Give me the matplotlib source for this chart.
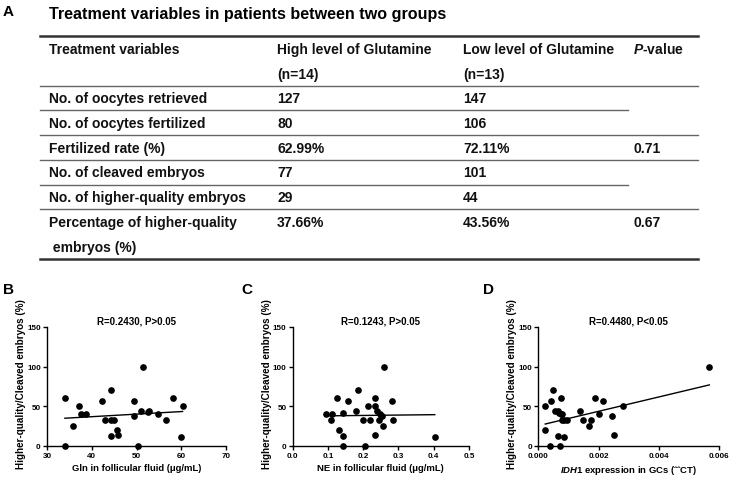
import numpy as np
import matplotlib
matplotlib.use('Agg')
import matplotlib.pyplot as plt
from matplotlib.lines import Line2D

plt.rcParams['font.family'] = ['Liberation Sans', 'DejaVu Sans']
plt.rcParams['font.weight'] = 'bold'
plt.rcParams['mathtext.fontset'] = 'custom'
plt.rcParams['mathtext.it'] = 'Liberation Sans:italic:bold'
plt.rcParams['mathtext.rm'] = 'Liberation Sans:bold'

# ---- table data ----
table_title = 'Treatment variables in patients between two groups'
col_headers = ['Treatment variables', 'High level of Glutamine', 'Low level of Glutamine',
               r'$\it{P}$-value']
group_n = ['(n=14)', '(n=13)']
row_names = ['No. of oocytes retrieved', 'No. of oocytes fertilized', 'Fertilized rate (%)',
             'No. of cleaved embryos', 'No. of higher-quality embryos',
             'Percentage of higher-quality']
row_extra = ' embryos (%)'
high_vals = ['127', '80', '62.99%', '77', '29', '37.66%']
low_vals = ['147', '106', '72.11%', '101', '44', '43.56%']
p_vals = ['', '', '0.71', '', '', '0.67']
partial_rule = [True, False, False, True, False, False]

# ---- scatter data ----
gln_x = [34.0, 34.0, 35.8, 37.2, 37.7, 38.7, 42.3, 43.0, 44.3, 44.2, 44.4, 45.0, 45.6,
         45.8, 49.4, 49.4, 50.4, 51.5, 51.0, 52.6, 52.9, 54.9, 56.5, 58.2, 59.9, 60.3]
gln_y = [60, 0, 25, 50, 40, 40, 57, 33, 70, 13, 33, 33, 20,
         14, 57, 37.5, 0, 100, 44.5, 43, 44.5, 40, 33, 60, 11, 50]
gln_fit_x = [34.0, 60.3]
gln_fit_y = [35.0, 43.5]

ne_x = [0.095, 0.108, 0.112, 0.127, 0.130, 0.143, 0.144, 0.143, 0.158, 0.180, 0.186, 0.200,
        0.205, 0.214, 0.218, 0.232, 0.234, 0.233, 0.240, 0.244, 0.248, 0.254, 0.258, 0.255,
        0.282, 0.285, 0.403]
ne_y = [40, 33, 40, 60, 20, 42, 13, 0, 57, 44.5, 70, 33,
        0, 50, 33, 50, 60, 14, 44.5, 33, 40, 37.5, 100, 25,
        57, 33, 11]
ne_fit_x = [0.095, 0.403]
ne_fit_y = [38.0, 39.5]

idh1_x = [0.00021, 0.00021, 0.00038, 0.00043, 0.00048, 0.00056, 0.00064, 0.00065, 0.00070,
          0.00072, 0.00075, 0.00076, 0.00080, 0.00078, 0.00085, 0.00086, 0.00096, 0.00138,
          0.00148, 0.00167, 0.00175, 0.00188, 0.00201, 0.00214, 0.00244, 0.00250, 0.00282,
          0.00567]
idh1_y = [50, 20, 0, 57, 70, 44.5, 44.5, 13, 41,
          0, 60, 40, 40, 33, 33, 11, 33, 44.5,
          33, 25, 33, 60, 40, 57, 37.5, 14, 50,
          100]
idh1_fit_x = [0.00023, 0.00567]
idh1_fit_y = [27.7, 77.0]

W, H = 729, 481
fig = plt.figure(figsize=(W / 100, H / 100), dpi=100)


def fx(x):
    return x / W


def fy(y):
    return 1 - y / H


tab_font = dict(fontsize=10, fontweight='bold', va='center', ha='left', color='#111111')
col_x = [49, 277, 463, 633]
left, right, right_part = 39.5, 698, 628
row0, step = 50, 24.7

fig.text(fx(3), fy(12), 'A', fontsize=11, fontweight='bold', va='center')
fig.text(fx(49), fy(15), table_title, fontsize=11.6, fontweight='bold', va='center')


def rule(y, x1=right, lw=1.0, color='#666666'):
    fig.add_artist(Line2D([fx(left), fx(x1)], [fy(y), fy(y)], lw=lw, color=color))


rule(36.7, lw=1.8, color='#333333')
for c, name in enumerate(col_headers):
    fig.text(fx(col_x[c]), fy(row0), name, **tab_font)
for c, n in enumerate(group_n):
    fig.text(fx(col_x[c + 1]), fy(row0 + step), n, **tab_font)
rule(row0 + step + 12)

for i, name in enumerate(row_names):
    y = row0 + (i + 2) * step
    fig.text(fx(col_x[0]), fy(y), name, **tab_font)
    fig.text(fx(col_x[1]), fy(y), high_vals[i], **tab_font)
    fig.text(fx(col_x[2]), fy(y), low_vals[i], **tab_font)
    fig.text(fx(col_x[3]), fy(y), p_vals[i], **tab_font)
    if i == len(row_names) - 1:
        fig.text(fx(col_x[0]), fy(y + step), row_extra, **tab_font)
        rule(y + step + 12, lw=1.8, color='#333333')
    else:
        rule(y + 12, x1=right_part if partial_rule[i] else right)

# ---- scatter panels ----
panels = [
    ('B', gln_x, gln_y, gln_fit_x, gln_fit_y, 'R=0.2430, P>0.05',
     'Gln in follicular fluid (\u03bcg/mL)', (30, 70), [30, 40, 50, 60, 70],
     ['30', '40', '50', '60', '70'], 47, 226, 3),
    ('C', ne_x, ne_y, ne_fit_x, ne_fit_y, 'R=0.1243, P>0.05',
     'NE in follicular fluid (\u03bcg/mL)', (0, 0.5), [0, 0.1, 0.2, 0.3, 0.4, 0.5],
     ['0.0', '0.1', '0.2', '0.3', '0.4', '0.5'], 292.7, 469, 241),
    ('D', idh1_x, idh1_y, idh1_fit_x, idh1_fit_y, 'R=0.4480, P<0.05',
     r'$\it{IDH1}$ expression in GCs (' + '\u02c6\u02c6' + 'CT)', (0, 0.006),
     [0, 0.002, 0.004, 0.006], ['0.000', '0.002', '0.004', '0.006'], 538.3, 719.3, 483),
]

for lab, xs, ys, fxs, fys, title, xlabel, xlim, xt, xtl, x0, x1, lab_x in panels:
    ax = fig.add_axes([fx(x0), fy(447), (x1 - x0) / W, (447 - 328) / H])
    ax.plot(xs, ys, 'o', color='black', ms=3.8, clip_on=False, zorder=3)
    ax.plot(fxs, fys, '-', color='black', lw=1.0)
    ax.set_xlim(*xlim)
    ax.set_ylim(0, 150)
    ax.set_xticks(xt)
    ax.set_xticklabels(xtl)
    ax.set_yticks([0, 50, 100, 150])
    for s in ['top', 'right']:
        ax.spines[s].set_visible(False)
    for s in ['left', 'bottom']:
        ax.spines[s].set_linewidth(1.0)
    ax.tick_params(labelsize=5.8, length=3, width=1.0, pad=1.5)
    for t in ax.get_xticklabels() + ax.get_yticklabels():
        t.set_fontweight('bold')
    ax.set_xlabel(xlabel, fontsize=6.8, fontweight='bold', labelpad=3)
    ax.set_ylabel('Higher-quality/Cleaved embryos (%)', fontsize=7.1, fontweight='bold',
                  va='center')
    ax.yaxis.set_label_coords(-26 / (x1 - x0), 0.53)
    ax.text(0.5, 1.055, title, transform=ax.transAxes, ha='center', va='center',
            fontsize=7, fontweight='bold')
    fig.text(fx(lab_x), fy(290), lab, fontsize=11, fontweight='bold', va='center')

fig.savefig('out.png', dpi=100)
